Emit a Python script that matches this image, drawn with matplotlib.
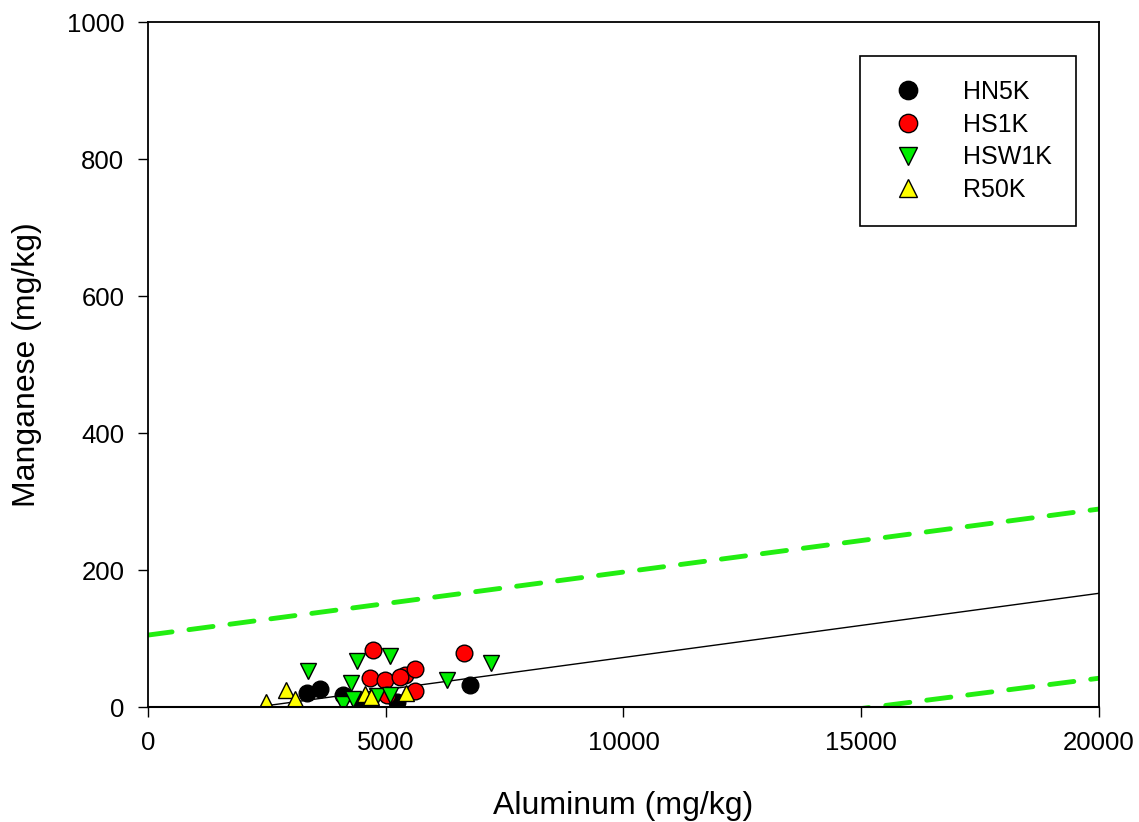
import matplotlib.pyplot as plt
import numpy as np

plt.rcParams['font.family'] = ['Liberation Sans', 'DejaVu Sans']

# Aluminum vs manganese (mg/kg) for each site
hn5k_al = [3340, 3620, 4100, 4460, 5230, 6770]
hn5k_mn = [20, 27, 17, 8, 8, 32]

hs1k_al = [4725, 6650, 4670, 4985, 5405, 5615, 5300, 5615, 5020]
hs1k_mn = [83, 79, 42, 39, 47, 56, 44, 23, 18]

hsw1k_al = [3370, 4390, 5090, 6280, 7210, 4280, 4110, 4320, 4810, 5090]
hsw1k_mn = [52, 67, 74, 39, 64, 35, 4, 12, 16, 17]

r50k_al = [2480, 2900, 3090, 4560, 4700, 5420]
r50k_mn = [8, 25, 12, 19, 14, 21]

# regression line and 95% prediction band
fit_x = [2480, 20000]
fit_y = [1.8, 166]
upper_x = [0, 20000]
upper_y = [105, 289]
lower_x = [0, 20000]
lower_y = [-135, 42]

fig = plt.figure(figsize=(11.39, 8.22), dpi=100)
ax = fig.add_axes([0.1299, 0.1399, 0.8350, 0.8333])

ax.plot(fit_x, fit_y, color='k', lw=1, zorder=2)
for bx, by in [(upper_x, upper_y), (lower_x, lower_y)]:
    ax.plot(bx, by, color='#22ee11', lw=3.5, dashes=(5, 3.5),
            dash_capstyle='round', zorder=2)

ms = 12
ax.plot(hn5k_al, hn5k_mn, 'o', color='black', mec='black', ms=ms, label='HN5K', zorder=3)
ax.plot(hs1k_al, hs1k_mn, 'o', color='red', mec='black', ms=ms, label='HS1K', zorder=3)
ax.plot(hsw1k_al, hsw1k_mn, 'v', color='#00ee00', mec='black', ms=ms, label='HSW1K', zorder=3)
ax.plot(r50k_al, r50k_mn, '^', color='yellow', mec='black', ms=ms, label='R50K', zorder=3)

ax.set_xlim(0, 20000)
ax.set_ylim(0, 1000)
ax.set_xticks([0, 5000, 10000, 15000, 20000])
ax.set_yticks([0, 200, 400, 600, 800, 1000])
ax.tick_params(direction='out', length=7, width=1, labelsize=18.5, pad=10,
               top=False, right=False)
ax.axhline(0, color='k', lw=1.5, zorder=4, clip_on=False)
for s in ax.spines.values():
    s.set_linewidth(1.3)

ax.set_xlabel('Aluminum (mg/kg)', fontsize=23, labelpad=26)
ax.set_ylabel('Manganese (mg/kg)', fontsize=23, labelpad=18)

leg = ax.legend(loc='upper right', bbox_to_anchor=(0.9758, 0.9504), fontsize=18,
                frameon=True, fancybox=False, edgecolor='black', framealpha=1,
                borderpad=0.95, labelspacing=0.35, handletextpad=1.2,
                handlelength=2.0, borderaxespad=0, markerscale=1.1)
leg.get_frame().set_linewidth(1.2)

plt.savefig('out.png', dpi=100)
